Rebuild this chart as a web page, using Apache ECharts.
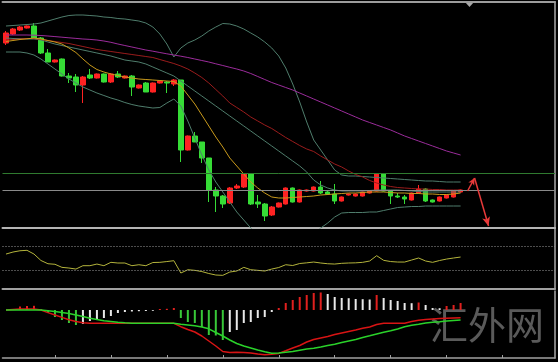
<!DOCTYPE html>
<html><head><meta charset="utf-8">
<script src="https://cdn.jsdelivr.net/npm/echarts@6/dist/echarts.min.js"></script>
<style>html,body{margin:0;padding:0;background:#000}#c{width:558px;height:362px}</style>
</head><body><div id="c"></div>
<script>
// 79 time slots; 66 bars drawn, the rest is the empty right margin
const categories = Array.from({length: 79}, (_, i) => String(i + 1));

// [open, close, low, high]
const candles = [
[185,195,183,197],[194,199,193,200],[198,201,197,202],[200,202,199.5,202.5],[202,190,189,205],
[190,175,174,191],[175,166,166,179],[166,168,165.5,168.5],[169,152,151.5,169.5],[152,150,145,155],
[151,143,136,154],[143,151,125,152],[153,150,149,159],[150,154,149.5,154.5],[154,146,145.5,154.5],
[146,154,145,155],[154,151,150,157],[150,152,149.5,152.5],[152,141,132,153],[140,143,139.5,143.5],
[145,136,136,146],[136,145,135.5,145.5],[145,147,144.5,147.5],[146,145,135,147],[144,148,142,149],
[148,78,66,148],[78,92,77.5,92.5],[92,86,86,96],[86,70,65,86],[70,38,26,70],
[38,32,16,41],[32,24,20,33],[25,40,24,41],[40,42,39,44],[41,54,40,55],
[54,24,23,54],[26,24,20,33],[24,12,7,25],[13,21,12,22],[21,25,20.5,25.5],
[24,40,23.5,40.5],[40,26,25.5,40.5],[26,38,25.5,38.5],[37,38,36.5,38.5],[37,41,36.5,41.5],
[41,35,34,47],[36,34,33,38],[34,27,24,44],[27,31,26.5,31.5],[33,34,32.5,34.5],
[32,34,31.5,34.5],[32,36,31.5,36.5],[35,37,34.5,37.5],[37,54,36.5,54.5],[54,37,36.5,54.5],
[37,32,24,38],[32,31,30,35],[31,29,24,33],[28,35,27.5,35.5],[35,39,34,43],
[39,27,26,40],[28,26,25.5,28.5],[27,31,26.5,31.5],[30,33,29.5,33.5],[31,37,30.5,37.5],
[36,38,35.5,38.5]
];

const maSlow = [193,193,193,193,192.8,192.5,192,191.4,190.8,190.2,189.6,189,188.6,188,187,185.7,184,182.5,181,179.5,
178,176.8,175.5,174.2,173,171.8,170.5,169,167.5,166,164.2,162.5,160.7,159,157,154.5,151.5,148.5,145.5,143,
140.5,138,135,132,129,126,123,120,117,114,111,108,105.5,103,100.5,98,95,92,89.5,87,84.5,82,79.5,77,75,73];

const maMid = [188,188.5,189,189.5,189.5,188.5,187.5,186.5,185.5,184.5,183,181.5,180,178.5,177.5,176.5,175.5,174.5,173.5,172.5,
171.5,170.5,168.5,166.5,164.5,162,159,155,150.5,145,138.5,132,125,120.5,116,111,107,103,99.5,95,
90.5,86.5,82.5,79,76.5,72,68,64,61,57,53.5,51,47.5,45,43,41.5,40.5,40,39.5,39,39,38.5,38.5,38,38,38];

const bandUpper = [202,202.5,203,203.5,204,205,207,209,211,212.5,213,213,212.5,212,211,210.5,209.5,209,208,207,
205,201,194,184,171,180,185,188,192,197,201,204.5,204,202,199,195,191,186,180,172,
160,144,126,106,88,78,68,58,53,52,52,51.5,51,50.5,50,49.5,49,48.5,48,47.5,47,47,46.5,46,46,46];

const bandMiddle = [190,189.5,189.5,189,189,188,186,184,182.5,181,179.5,178,176.5,175,173.5,172,170,168,167,166,
164,161,158,155,152,147,142,137,132,127,122,117,112,107,102,97,92,87,82,77,
72,67,62,56,48,43,40,38,37,37,37,37,37.5,38,38,38,38,37.5,37,36.5,36,36,36,36,36,36];

const bandLower = [176,176,176,175,173,169,164,159,154,149,145,141,138,135,132.5,130,128,125.5,123.5,122,
121,120,120.5,125,129,122,107,90,73,58,46,36,26,16,8,0,-6,-11,-15,-17,
-17,-15,-12,-9,-5,0,5,11,15,15.5,15.5,15.5,16,16,17.5,19,20.5,21,21.5,21.5,22,22,22,22,22,22];

const maFast = [186.5,187.5,188.5,189.2,190,189,187.5,186,184,180,175.5,169,163,158.5,156,154,152.5,151,150,149,
148.5,148,147.5,147,146.5,142,133,124,113,102,91,81,70,62,54,46,40,35,31,30,
30,30.5,31,31.5,32,33,33.5,34,34.5,35,35,35.5,36,36,36,35.5,35,35,34.5,34.5,34,34,33.5,33.5,34,35];

const levelGreen = 54.7;
const levelGray = 38;
const arrowPath = [[66, 37], [67, 50], [69, 2]];

const rsi = [57.3,60.6,62.7,63.4,57.3,46.7,41.4,40.5,35.5,34.4,32.7,38.2,38.2,40.9,38.2,43.7,42.6,42.6,38.2,39.8,
38.2,43.4,43.7,45.0,46.4,26.2,31.6,30.6,28.6,25.4,22.9,22.4,27.8,29.5,35.5,31.6,30.6,29.5,32.7,35.2,
39.8,38.5,41.8,42.9,44.2,42.6,41.4,40.9,42.1,42.6,42.9,43.7,45.9,54.6,47.0,45.0,44.2,44.2,47.5,50.8,
45.9,43.7,46.7,49.1,50.8,52.4];
const rsiLevels = [70, 30];

const macdHist = [0,0.5,3.5,4,4.2,0.5,-3,-7,-10,-13,-15,-14,-11,-10,-8,-6,-3,-2,-1.5,-1.2,
-1,-0.8,1,1.2,2,-8,-12,-13,-17,-25,-25.5,-30,-22,-20,-13,-12,-8,-7,-2,2,
7,10,13,15,17,17.5,16,13,12,11.8,11,10.8,10.5,15,12,10,9,7,6.8,7.5,
5,2,1.8,4,5,7];

const macdGreen = [0,0,0,0,0,0,-0.7,-1.5,-2.5,-3.5,-5,-6.6,-8.2,-9.5,-10.7,-11.5,-12.3,-12.8,-13.2,-13.3,
-13.3,-13.3,-13.3,-13.3,-13.3,-14.3,-15,-15.8,-17,-18.8,-22.5,-26,-30,-33.5,-36,-38,-40,-41.8,-43.2,-43,
-42.2,-41.5,-40.2,-39,-38.2,-37,-35.5,-34.3,-32.5,-31,-29.5,-27.5,-25.8,-24,-22.3,-20.8,-19,-16.7,-15.3,-14.2,
-13,-12.2,-11.7,-11,-10.5,-10];

const macdRed = [0,0.5,1,1,1,0,-2.6,-5,-7.4,-9.7,-11.4,-12.7,-13.3,-13.3,-13.3,-13.3,-13.3,-13.3,-13.3,-13.3,
-13.3,-13.3,-13.3,-13.3,-13.3,-16.7,-19.5,-22,-26,-31,-36,-41.5,-42.5,-42.3,-42.5,-43,-44,-44.8,-44.3,-43.4,
-40.8,-38,-35.5,-32,-29.5,-28,-26.5,-24.5,-23,-21.5,-20,-18.3,-17,-14.5,-13.3,-13.3,-13.3,-13.2,-11.5,-10.3,
-9.5,-9,-8.5,-8.2,-7.9,-7.7];

const chart = echarts.init(document.getElementById('c'), null, {renderer: 'canvas'});
const frame = '#a8a8a8';
const hidden = {show: false};
function catAxis(gridIndex, position, lineColor, lineWidth, extra) {
  return Object.assign({
    type: 'category', data: categories, gridIndex, position, boundaryGap: true,
    axisLine: {show: true, onZero: false, lineStyle: {color: lineColor, width: lineWidth}},
    axisTick: hidden, axisLabel: hidden, splitLine: hidden
  }, extra || {});
}
function valAxis(gridIndex, min, max) {
  return {
    type: 'value', gridIndex, min, max, position: 'right', scale: false,
    axisLine: {show: true, lineStyle: {color: frame, width: 1.5}},
    axisTick: hidden, axisLabel: hidden, splitLine: hidden
  };
}
const thin = c => ({type: 'line', symbol: 'none', showSymbol: false, silent: true,
  lineStyle: {color: c, width: 1}, itemStyle: {color: c}});

chart.setOption({
  backgroundColor: '#000',
  animation: false,
  grid: [
    {left: 2.5, right: 3, top: 2, height: 226},
    {left: 2.5, right: 3, top: 228, height: 61},
    {left: 2.5, right: 3, top: 291, height: 67}
  ],
  xAxis: [
    catAxis(0, 'bottom', '#b4b4b4', 2),
    catAxis(0, 'top', '#9c9c9c', 2),
    catAxis(1, 'bottom', '#a0a0a0', 2),
    catAxis(2, 'bottom', '#a0a0a0', 1.5, {
      axisTick: {show: true, inside: true, length: 3, alignWithLabel: true,
        interval: (i) => i % 8 === 7, lineStyle: {color: '#a0a0a0'}}
    })
  ],
  yAxis: [valAxis(0, 0, 226), valAxis(1, 0, 100), valAxis(2, -48, 19)],
  series: [
    Object.assign(thin('#4f7d6c'), {name: 'upper', xAxisIndex: 0, yAxisIndex: 0, data: bandUpper}),
    Object.assign(thin('#4f7d6c'), {name: 'lower', xAxisIndex: 0, yAxisIndex: 0, data: bandLower}),
    Object.assign(thin('#4f7d6c'), {name: 'middle', xAxisIndex: 0, yAxisIndex: 0, data: bandMiddle}),
    Object.assign(thin('#9b2c9b'), {name: 'slow', xAxisIndex: 0, yAxisIndex: 0, data: maSlow}),
    Object.assign(thin('#9a1c1c'), {name: 'mid', xAxisIndex: 0, yAxisIndex: 0, data: maMid}),
    Object.assign(thin('#c99a1c'), {name: 'fast', xAxisIndex: 0, yAxisIndex: 0, data: maFast}),
    {
      type: 'candlestick', xAxisIndex: 0, yAxisIndex: 0, data: candles, barWidth: 5, silent: true,
      itemStyle: {color: '#ff2222', color0: '#36dc36', borderColor: '#ff2222', borderColor0: '#36dc36', borderWidth: 1},
      markLine: {
        silent: true, symbol: ['none', 'none'], label: {show: false},
        lineStyle: {type: 'solid', width: 1},
        data: [
          {yAxis: levelGreen, lineStyle: {color: '#2f7a2f', type: 'solid', width: 1}},
          {yAxis: levelGray, lineStyle: {color: '#8a8a8a', type: 'solid', width: 1}},
          [{coord: arrowPath[0], lineStyle: {color: '#e83a3a', width: 1.5, type: 'solid'}},
           {coord: arrowPath[1], symbol: 'arrow', symbolSize: [5, 7]}],
          [{coord: arrowPath[1], lineStyle: {color: '#e83a3a', width: 1.5, type: 'solid'}},
           {coord: arrowPath[2], symbol: 'arrow', symbolSize: [6, 9]}]
        ]
      }
    },
    Object.assign(thin('#b4b43c'), {name: 'rsi', xAxisIndex: 2, yAxisIndex: 1, data: rsi,
      markLine: {silent: true, symbol: ['none', 'none'], label: {show: false},
        lineStyle: {color: '#9a9a9a', type: [1, 2], width: 1},
        data: rsiLevels.map(v => ({yAxis: v}))}}),
    {
      type: 'bar', xAxisIndex: 3, yAxisIndex: 2, data: macdHist, barWidth: 2, silent: true,
      itemStyle: {color: (p) => {
        const v = p.value, prev = p.dataIndex > 0 ? macdHist[p.dataIndex - 1] : -Infinity;
        const rising = v > prev;
        if (v >= 0) return rising ? '#e0201e' : '#e8e8e8';
        return rising ? '#e8e8e8' : '#38c838';
      }}
    },
    Object.assign(thin('#d81414'), {name: 'macdRed', xAxisIndex: 3, yAxisIndex: 2, data: macdRed, lineStyle: {color: '#d81414', width: 1.5}}),
    Object.assign(thin('#2ad22a'), {name: 'macdGreen', xAxisIndex: 3, yAxisIndex: 2, data: macdGreen, lineStyle: {color: '#2ad22a', width: 1.5}})
  ],
  graphic: [
    {type: 'polygon', shape: {points: [[465, 2], [474, 2], [469.5, 7]]}, style: {fill: '#a8a8a8'}, silent: true},
    {type: 'text', left: 430, top: 306, silent: true,
      style: {text: '汇外网', font: '38px "Noto Sans CJK SC"', fill: '#6a6a6a', opacity: 0.85}}
  ]
});
</script>
</body></html>
